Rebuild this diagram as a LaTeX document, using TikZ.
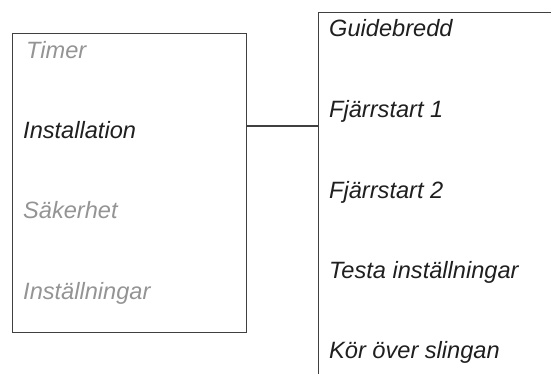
\documentclass[tikz,border=0pt]{standalone}
\usepackage{fontspec}
\setmainfont{Liberation Sans}
\begin{document}
\begin{tikzpicture}[x=1pt,y=-1pt,
  boxline/.style={draw=black!75, line width=1.1pt},
  item/.style={anchor=base west, inner sep=0pt, font=\fontsize{23.6}{28}\selectfont\itshape},
  active/.style={item, text=black!88},
  inactive/.style={item, text=black!42}]
\useasboundingbox (0,0) rectangle (551,374);
\clip (0,0) rectangle (551,374);
% boxes
\node[boxline, inner sep=0pt, minimum width=234pt, minimum height=299pt, anchor=north west] (leftbox) at (12,33) {};
\node[boxline, inner sep=0pt, minimum width=260pt, minimum height=380pt, anchor=north west] (rightbox) at (318,12) {};
% left items
\node[inactive] (timer) at (26,59) {Timer};
\node[active] (inst) at (23,139) {Installation};
\node[inactive] (sak) at (23,218) {Säkerhet};
\node[inactive] (instn) at (23,299) {Inställningar};
% right items
\node[active] (guide) at (329,37) {Guidebredd};
\node[active] (fj1) at (329,118) {Fjärrstart 1};
\node[active] (fj2) at (329,198) {Fjärrstart 2};
\node[active] (testa) at (329,278) {Testa inställningar};
\node[active] (kor) at (329,358) {Kör över slingan};
% connector
\coordinate (lvl) at (0,126);
\draw[boxline] (leftbox.east |- lvl) -- (rightbox.west |- lvl);
\end{tikzpicture}
\end{document}
